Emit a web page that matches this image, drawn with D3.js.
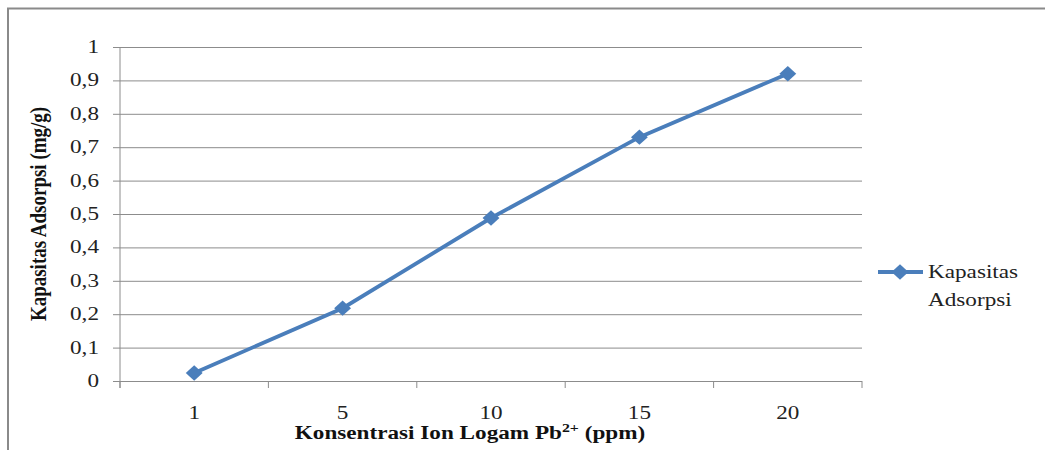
<!DOCTYPE html>
<html>
<head>
<meta charset="utf-8">
<script src="https://cdn.jsdelivr.net/npm/d3@7"></script>
<style>
  body { margin: 0; background: #fff; }
  svg { font-family: "Liberation Serif", "Times New Roman", serif; }
</style>
</head>
<body>
<svg id="chart" width="1045" height="450"></svg>
<script>
const categories = ["1", "5", "10", "15", "20"];
const values = [0.024, 0.218, 0.488, 0.73, 0.92];
const yTicks = [0, 0.1, 0.2, 0.3, 0.4, 0.5, 0.6, 0.7, 0.8, 0.9, 1];
const seriesName = ["Kapasitas", "Adsorpsi"];

const svg = d3.select("#chart");
const margin = { left: 120, right: 183, top: 47, bottom: 69 };
const width = +svg.attr("width");
const height = +svg.attr("height");
const lineColor = "#4a7ebb";
const gridColor = "#8c8c8c";
const stretch = 1.22; // source image is widened horizontally
const fs = 19;

// outer frame (cut off at right and bottom)
svg.append("path")
  .attr("d", "M8,460 L8,8.5 L1050,8.5")
  .attr("fill", "none")
  .attr("stroke", "#8a8a8a")
  .attr("stroke-width", 2);

const x = d3.scaleBand()
  .domain(categories)
  .range([margin.left, width - margin.right]);

const y = d3.scaleLinear()
  .domain([0, 1])
  .range([height - margin.bottom, margin.top]);

const fmt = d => d3.format(".1f")(d).replace(/\.0$/, "").replace(".", ",");

// gridlines + y ticks
svg.append("g")
  .attr("transform", `translate(${margin.left},0)`)
  .call(d3.axisLeft(y).tickValues(yTicks).tickSize(-(width - margin.left - margin.right)).tickFormat(""))
  .call(g => g.select(".domain").remove())
  .call(g => g.selectAll("line").attr("stroke", gridColor).attr("x1", -7));

svg.append("g")
  .selectAll("text")
  .data(yTicks)
  .join("text")
  .attr("transform", d => `translate(99,${y(d) + 6}) scale(${stretch},1)`)
  .attr("text-anchor", "end")
  .attr("font-size", fs)
  .attr("fill", "#222")
  .text(fmt);

// y axis line
svg.append("line")
  .attr("x1", margin.left).attr("x2", margin.left)
  .attr("y1", y(1)).attr("y2", y(0) + 7)
  .attr("stroke", gridColor);

// x axis tick marks at band edges
const edges = categories.map(c => x(c)).concat([x(categories[categories.length - 1]) + x.bandwidth()]);
svg.append("g")
  .selectAll("line")
  .data(edges)
  .join("line")
  .attr("x1", d => d).attr("x2", d => d)
  .attr("y1", y(0)).attr("y2", y(0) + 7)
  .attr("stroke", gridColor);

svg.append("g")
  .selectAll("text")
  .data(categories)
  .join("text")
  .attr("transform", d => `translate(${x(d) + x.bandwidth() / 2},419) scale(${stretch},1)`)
  .attr("text-anchor", "middle")
  .attr("font-size", fs)
  .attr("fill", "#222")
  .text(d => d);

// axis titles
const xt = svg.append("text")
  .attr("transform", `translate(470,439) scale(${stretch},1)`)
  .attr("text-anchor", "middle")
  .attr("font-size", fs)
  .attr("font-weight", "bold")
  .attr("fill", "#111");
xt.append("tspan").text("Konsentrasi Ion Logam Pb");
xt.append("tspan").attr("font-size", 13).attr("dy", -7).text("2+");
xt.append("tspan").attr("dy", 7).text(" (ppm)");

svg.append("text")
  .attr("transform", `translate(46,${(y(0) + y(1)) / 2}) scale(${stretch},1) rotate(-90)`)
  .attr("text-anchor", "middle")
  .attr("font-size", fs)
  .attr("font-weight", "bold")
  .attr("fill", "#111")
  .text("Kapasitas Adsorpsi (mg/g)");

// series
const line = d3.line()
  .x((d, i) => x(categories[i]) + x.bandwidth() / 2)
  .y(d => y(d));

svg.append("path")
  .datum(values)
  .attr("d", line)
  .attr("fill", "none")
  .attr("stroke", lineColor)
  .attr("stroke-width", 3.8);

const diamond = d3.symbol().type(d3.symbolDiamond2).size(150);
svg.append("g")
  .selectAll("path")
  .data(values)
  .join("path")
  .attr("d", diamond)
  .attr("transform", (d, i) => `translate(${x(categories[i]) + x.bandwidth() / 2},${y(d)}) scale(1.1,1)`)
  .attr("fill", lineColor);

// legend
const lg = svg.append("g").attr("transform", "translate(878,272)");
lg.append("line").attr("x1", 0).attr("x2", 45).attr("stroke", lineColor).attr("stroke-width", 3.8);
lg.append("path").attr("d", diamond).attr("transform", "translate(22,0) scale(1.1,1)").attr("fill", lineColor);
lg.selectAll("text")
  .data(seriesName)
  .join("text")
  .attr("transform", (d, i) => `translate(50,${6 + i * 28}) scale(${stretch},1)`)
  .attr("font-size", fs)
  .attr("fill", "#222")
  .text(d => d);
</script>
</body>
</html>
